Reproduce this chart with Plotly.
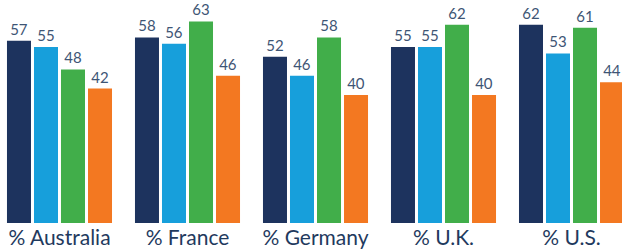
import plotly.graph_objects as go

countries = ["% Australia", "% France", "% Germany", "% U.K.", "% U.S."]
series_names = ["Series 1", "Series 2", "Series 3", "Series 4"]
s1 = [57, 58, 52, 55, 62]
s2 = [55, 56, 46, 55, 53]
s3 = [48, 63, 58, 62, 61]
s4 = [42, 46, 40, 40, 44]
colors = ["#1d335e", "#179fdb", "#41ae4a", "#f37821"]

fig = go.Figure()
for name, vals, c in zip(series_names, [s1, s2, s3, s4], colors):
    fig.add_trace(go.Bar(
        x=countries, y=vals, name=name, marker_color=c, marker_line_width=0,
        text=[str(v) for v in vals], textposition="outside", cliponaxis=False,
        textfont=dict(family="Lato", size=15, color="#3e5575"),
    ))

fig.update_layout(
    width=622, height=249,
    margin=dict(l=0, r=0, t=0, b=26),
    paper_bgcolor="white", plot_bgcolor="white",
    barmode="group", bargap=0.156, bargroupgap=0.111,
    showlegend=False,
    xaxis=dict(range=[-0.4648, 4.3945], showgrid=False, zeroline=False,
               showline=False, ticks="", ticklabelstandoff=0, automargin=False,
               tickfont=dict(family="Lato", size=21, color="#1f3a5e")),
    yaxis=dict(range=[0, 69.7], visible=False, automargin=False),
)
fig.write_html("out.html", config={"displayModeBar": False},
               post_script="document.body.style.margin='0';document.body.style.overflow='hidden';")
